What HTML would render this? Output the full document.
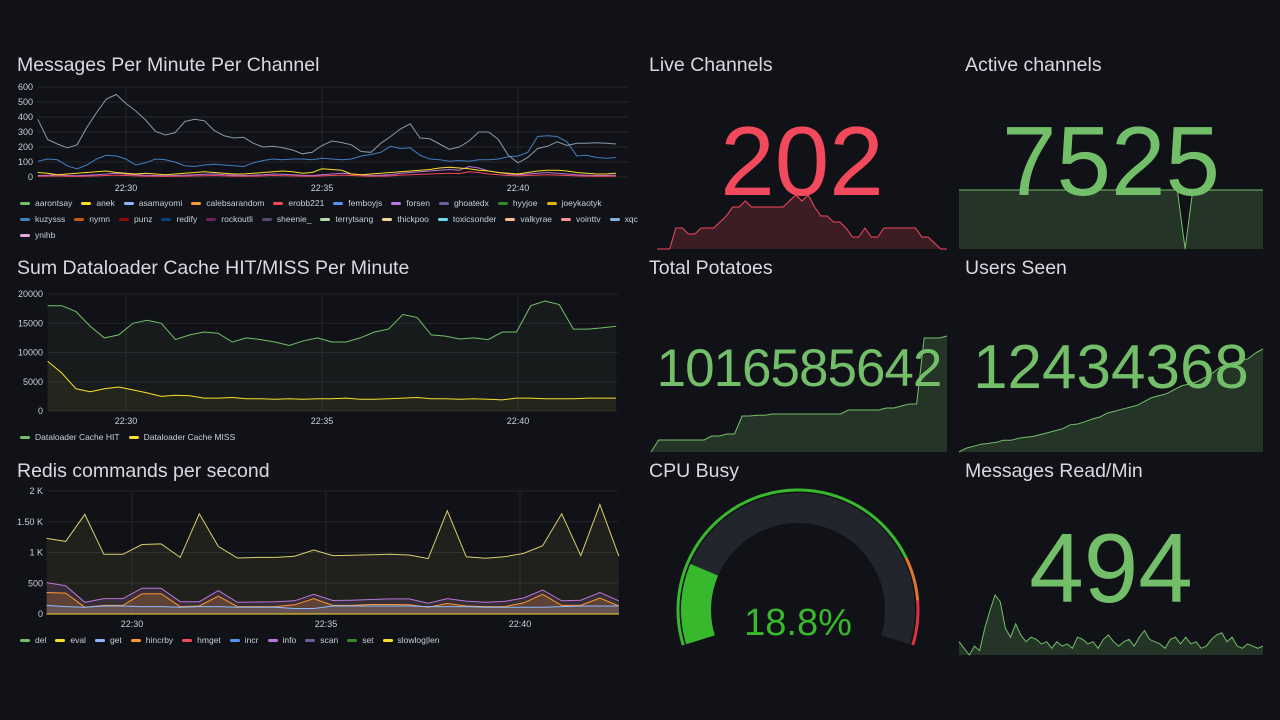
<!DOCTYPE html>
<html><head><meta charset="utf-8">
<style>
body{margin:0;width:1280px;height:720px;background:#111217;overflow:hidden;font-family:"Liberation Sans",sans-serif;color:#ccccdc;position:relative}
.t{position:absolute;font-size:19.5px;color:#d8d9e0;white-space:nowrap}
.leg{position:absolute;left:20px;width:626px;display:flex;flex-wrap:wrap;font-size:8.5px;color:#c7d0d9;row-gap:6px;column-gap:9px}
.li{display:flex;align-items:center;white-space:nowrap}
.li i{display:inline-block;width:10px;height:3px;border-radius:2px;margin-right:5px}
.big{position:absolute;text-align:center;font-weight:normal;white-space:nowrap}
svg{position:absolute;left:0;top:0}
</style></head><body>
<div class="t" style="left:17px;top:54px">Messages Per Minute Per Channel</div>
<div class="t" style="left:17px;top:257px">Sum Dataloader Cache HIT/MISS Per Minute</div>
<div class="t" style="left:17px;top:460px">Redis commands per second</div>
<div class="t" style="left:649px;top:54px">Live Channels</div>
<div class="t" style="left:965px;top:54px">Active channels</div>
<div class="t" style="left:649px;top:257px">Total Potatoes</div>
<div class="t" style="left:965px;top:257px">Users Seen</div>
<div class="t" style="left:649px;top:460px">CPU Busy</div>
<div class="t" style="left:965px;top:460px">Messages Read/Min</div>

<svg id="s" width="1280" height="720"></svg>

<div class="big" style="left:657px;width:290px;top:105px;font-size:98px;color:#f2495c">202</div>
<div class="big" style="left:959px;width:304px;top:105px;font-size:98px;color:#73bf69">7525</div>
<div class="big" style="left:651px;width:296px;top:338px;font-size:53px;color:#73bf69;letter-spacing:-1px">1016585642</div>
<div class="big" style="left:959px;width:304px;top:332px;font-size:62px;color:#73bf69">12434368</div>
<div class="big" style="left:959px;width:304px;top:512px;font-size:98px;color:#73bf69">494</div>
<div class="big" style="left:698px;width:200px;top:602px;font-size:38px;color:#37b82d">18.8%</div>

<div class="leg" id="leg1" style="top:198px"></div>
<div class="leg" id="leg2" style="top:432px"></div>
<div class="leg" id="leg3" style="top:635px"></div>

<script>
// ---- Chart 1 data
const msgMain=[385,250,220,195,215,330,430,520,550,490,440,380,305,280,295,370,385,375,310,275,260,265,225,200,205,195,180,155,165,210,240,230,215,170,165,225,270,320,355,260,255,220,185,200,240,300,300,250,145,95,130,190,205,235,210,225,225,228,225,220];
const msgSecond=[105,120,115,75,55,80,120,145,140,120,80,95,120,115,100,75,70,80,85,80,75,70,95,110,120,115,120,120,115,125,120,115,120,140,150,165,205,190,195,145,120,115,105,110,105,115,115,120,135,140,165,270,275,270,235,140,145,130,125,130];
const msgSmallA=[30,25,15,20,25,30,35,40,30,25,20,25,20,15,20,25,30,35,30,25,20,20,25,30,35,40,35,25,30,55,50,45,20,15,20,25,30,35,40,45,50,60,65,60,55,45,40,30,25,20,30,40,45,45,40,30,25,20,20,25];
const msgSmallB=[10,12,15,10,8,12,15,20,25,20,15,12,10,8,10,12,15,18,20,15,12,10,12,15,20,18,15,12,10,15,20,25,20,15,10,12,15,25,30,35,40,45,50,45,70,60,40,30,20,15,20,25,30,25,20,15,12,10,10,12];
const msgNames=["aarontsay","anek","asamayomi","calebsarandom","erobb221","femboyjs","forsen","ghoatedx","hyyjoe","joeykaotyk","kuzysss","nymn","punz","redify","rockoutli","sheenie_","terrytsang","thickpoo","toxicsonder","valkyrae","vointtv","xqc","ynihb"];
const msgColors=["#73bf69","#fade2a","#8ab8ff","#ff9830","#f2495c","#5794f2","#b877d9","#705da0","#37872d","#e0b400","#447ebc","#c15c17","#890f02","#0a437c","#6d1f62","#584477","#b7dbab","#f4d598","#70dbed","#f9ba8f","#f29191","#82b5d8","#e5a8e2"];
const msgYTicks=[0,100,200,300,400,500,600];
const timeTicks=["22:30","22:35","22:40"];
const timeTickMin=[30,35,40];
// ---- Chart 2 data
const hit=[18000,18000,17000,14500,12500,13000,15000,15500,15000,12200,13000,13500,13300,11800,12500,12200,11800,11200,12000,12500,11800,11800,12500,13500,14000,16500,16000,13000,12800,12300,12500,12200,13500,13500,18000,18800,18200,14000,14000,14200,14500];
const miss=[8500,6500,3800,3300,3800,4100,3600,3100,2500,2700,2600,2200,2200,2300,2100,2100,2000,2100,2000,2100,2100,2200,2000,2000,2100,2200,2300,2100,2100,2000,2100,2000,1900,2200,2200,2100,2100,2100,2200,2200,2200];
const dlYTicks=[0,5000,10000,15000,20000];
// ---- Chart 3 data
const redisEval=[1230,1180,1620,970,970,1130,1140,920,1630,1100,910,920,920,940,1040,950,955,965,970,960,900,1680,930,905,930,985,1110,1630,950,1780,940];
const redisInfo=[510,460,190,250,250,420,420,200,200,380,190,195,200,215,320,220,225,235,245,245,175,250,210,190,205,260,390,215,225,350,215];
const redisHincrby=[350,340,110,140,140,330,330,120,130,290,120,120,120,150,250,140,140,155,155,150,110,170,130,120,120,180,320,140,140,260,130];
const redisGet=[140,120,110,130,130,120,120,110,120,120,110,110,110,90,90,130,130,130,130,130,120,120,120,110,110,110,110,120,130,130,130];
const redisYTicks=[0,500,1000,1500,2000];
const redisYLabels=["0","500","1 K","1.50 K","2 K"];
const redisNames=["del","eval","get","hincrby","hmget","incr","info","scan","set","slowlog|len"];
const redisColors=["#73bf69","#fade2a","#8ab8ff","#ff9830","#f2495c","#5794f2","#b877d9","#705da0","#37872d","#fade2a"];
// ---- Stat sparklines
const liveCh=[0,0,0,35,35,25,25,35,35,35,45,55,70,70,80,70,70,70,70,70,70,80,90,80,90,70,55,55,45,45,35,20,20,35,20,20,35,35,35,35,35,35,20,20,10,0,0];
const activeCh=[7525,7525,7525,7525,7525,7525,7525,7525,7525,7525,7525,7525,7525,7525,7525,7525,7525,7525,7525,7525,7525,7525,7525,7525,7525,7525,7525,7525,7525,0,7525,7525,7525,7525,7525,7525,7525,7525,7525,7525];
const potatoes=[0,30,30,30,30,30,30,30,40,40,45,45,90,90,92,92,95,95,95,95,95,95,95,95,95,95,105,105,105,105,105,110,110,115,120,120,285,285,285,290];
const usersSeen=[0,10,15,20,22,25,30,30,35,38,40,45,50,55,60,70,72,78,85,90,100,105,110,115,120,130,140,145,150,160,170,175,180,190,200,215,225,230,235,240,255,265];
const msgRead=[30,15,0,20,10,60,100,135,120,60,40,70,45,30,40,35,25,30,15,30,20,25,15,40,35,25,30,15,35,45,30,20,30,35,20,40,55,35,30,25,15,35,40,25,40,25,30,15,20,35,45,50,30,40,20,15,25,20,15,20];
const cpuValue=18.8;

const NS="http://www.w3.org/2000/svg";
const S=document.getElementById('s');
function mk(tag,attrs){const e=document.createElementNS(NS,tag);for(const k in attrs)e.setAttribute(k,attrs[k]);S.appendChild(e);return e;}
function txt(x,y,s,anchor){const e=mk('text',{x:x,y:y,fill:'#c7d0d9','font-size':9,'text-anchor':anchor||'middle','font-family':'Liberation Sans, sans-serif'});e.textContent=s;return e;}

function timeAxis(x30,pxPerMin){return m=>x30+(m-30)*pxPerMin;}
function lin(d0,d1,r0,r1){return v=>r0+(v-d0)/(d1-d0)*(r1-r0);}

function panelAxes(xL,xR,yS,ticks,labels,xs,labelY,name){
  ticks.forEach((t,i)=>{
    const g=mk('line',{x1:xL,x2:xR,y1:yS(t),y2:yS(t),stroke:'#23252b','stroke-width':1});
    
    
    const l=txt(xL-5,yS(t)+3,labels?labels[i]:String(t),'end');
    
    
  });
  timeTickMin.forEach((m,i)=>{
    const g=mk('line',{x1:xs(m),x2:xs(m),y1:yS(ticks[ticks.length-1]),y2:yS(0),stroke:'#23252b','stroke-width':1});
    
    
    const l=txt(xs(m),labelY,timeTicks[i]);
    
    
  });
}
function series(vals,xOf,yS,color,fill,name,base){
  const pts=vals.map((v,i)=>[xOf(i),yS(v)]);
  const d='M'+pts.map(p=>p[0].toFixed(1)+','+p[1].toFixed(1)).join('L');
  if(fill){
    const by=base!==undefined?base:yS(0);
    const f=mk('path',{d:d+'L'+pts[pts.length-1][0]+','+by+'L'+pts[0][0]+','+by+'Z',fill:color,'fill-opacity':fill,stroke:'none'});
    
    
  }
  const p=mk('path',{d:d,fill:'none',stroke:color,'stroke-width':1});
  
  
}
function legend(id,names,colors){
  const L=document.getElementById(id);
  names.forEach((n,i)=>{
    const d=document.createElement('div');d.className='li';
    
    
    d.innerHTML='<i style="background:'+colors[i]+'"></i>'+n;
    L.appendChild(d);
  });
}

// Chart 1
(function(){
  const xs=timeAxis(126,39.2);
  const yS=lin(0,600,177,87);
  panelAxes(38,628,yS,msgYTicks,null,xs,191,'messages');
  const t0=27.75,t1=42.5;
  const xOf=i=>xs(t0+(t1-t0)*i/(msgMain.length-1));
  series(msgSmallB,xOf,yS,'#b877d9',0,'series-forsen');
  series(msgSmallA,xOf,yS,'#fade2a',0,'series-anek');
  series(msgSmallB.map(v=>v*0.5),xOf,yS,'#f2495c',0,'series-erobb221');
  series(msgSecond,xOf,yS,'#447ebc',0,'series-kuzysss');
  series(msgMain,xOf,yS,'#8a9aa9',0,'series-xqc');
  legend('leg1',msgNames,msgColors);
})();
// Chart 2
(function(){
  const xs=timeAxis(126,39.2);
  const yS=lin(0,20000,411,294);
  panelAxes(48,618,yS,dlYTicks,null,xs,424,'dataloader');
  const t0=28.0,t1=42.5;
  const xOf=i=>xs(t0+(t1-t0)*i/(hit.length-1));
  series(hit,xOf,yS,'#73bf69',0.06,'series-cache-hit');
  series(miss,xOf,yS,'#fade2a',0.06,'series-cache-miss');
  legend('leg2',["Dataloader Cache HIT","Dataloader Cache MISS"],["#73bf69","#fade2a"]);
})();
// Chart 3
(function(){
  const xs=timeAxis(132,38.8);
  const yS=lin(0,2000,614,491);
  panelAxes(48,618,yS,redisYTicks,redisYLabels,xs,627,'redis');
  const t0=27.8,t1=42.55;
  const xOf=i=>xs(t0+(t1-t0)*i/(redisEval.length-1));
  series(redisEval,xOf,yS,'#d8d06a',0.08,'series-eval');
  series(redisInfo,xOf,yS,'#b877d9',0.15,'series-info');
  series(redisHincrby,xOf,yS,'#ff9830',0.2,'series-hincrby');
  series(redisGet,xOf,yS,'#8ab8ff',0.15,'series-get');
  series(redisGet.map(()=>0),xOf,yS,'#fade2a',0,'series-slowlog');
  legend('leg3',redisNames,redisColors);
})();
// Sparklines
function spark(vals,x0,x1,yB,yT,max,color,name){
  const yS=lin(0,max,yB,yT);
  const xOf=i=>x0+(x1-x0)*i/(vals.length-1);
  series(vals,xOf,yS,color,0.2,name,yB);
}
spark(liveCh,657,947,249,195,90,'#f2495c','sparkline-live-channels');
spark(activeCh,959,1263,249,190,7525,'#73bf69','sparkline-active-channels');
spark(potatoes,651,947,452,336,290,'#73bf69','sparkline-total-potatoes');
spark(usersSeen,959,1263,452,349,265,'#73bf69','sparkline-users-seen');
spark(msgRead,959,1263,655,595,135,'#73bf69','sparkline-messages-read');

// Gauge
(function(){
  const cx=798,cy=610;
  const a0=197,a1=-17;
  function pt(r,a){const rad=a*Math.PI/180;return [cx+r*Math.cos(rad),cy-r*Math.sin(rad)];}
  function arc(r,s,e,color,w,name){
    const p0=pt(r,s),p1=pt(r,e);const large=(s-e)>180?1:0;
    const p=mk('path',{d:`M${p0[0]},${p0[1]}A${r},${r} 0 ${large} 1 ${p1[0]},${p1[1]}`,fill:'none',stroke:color,'stroke-width':w});
    
    
  }
  const span=a0-a1;
  const av=v=>a0-span*v/100;
  arc(102,a0,a1,'#22252b',30,'gauge-track');
  arc(102,a0,av(cpuValue),'#37b82d',30,'gauge-value-arc');
  arc(120,a0,av(80),'#37b82d',3,'gauge-threshold-green');
  arc(120,av(80),av(90),'#e0752d',3,'gauge-threshold-orange');
  arc(120,av(90),a1,'#e02f44',3,'gauge-threshold-red');
})();
</script>
</body></html>
